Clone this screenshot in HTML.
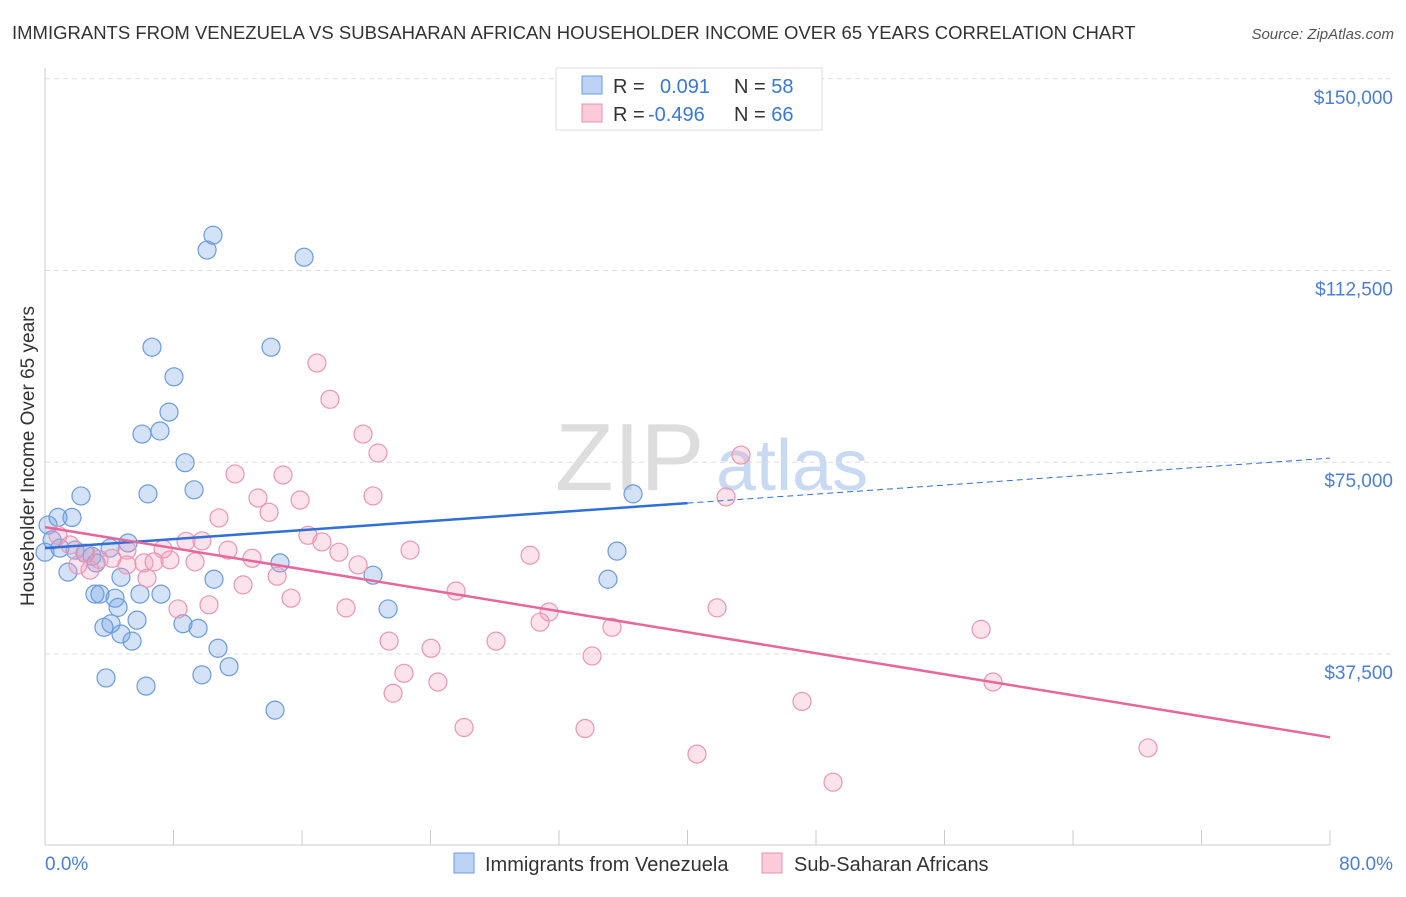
<!DOCTYPE html>
<html><head><meta charset="utf-8"><style>
body{margin:0;background:#fff;font-family:"Liberation Sans",sans-serif;}
svg text{font-family:"Liberation Sans",sans-serif;}
</style></head><body>
<svg id="chart" width="1406" height="892" xmlns="http://www.w3.org/2000/svg">
<text x="12" y="39" font-size="18.5" fill="#333">IMMIGRANTS FROM VENEZUELA VS SUBSAHARAN AFRICAN HOUSEHOLDER INCOME OVER 65 YEARS CORRELATION CHART</text>
<text x="1394" y="39" font-size="15" fill="#555" text-anchor="end" font-style="italic">Source: ZipAtlas.com</text>
<text x="555" y="490" font-size="96" fill="#ddd" font-family="Liberation Serif">ZIP</text>
<text x="716" y="490" font-size="72" fill="#c8daf2">atlas</text>
<g id="grid"></g>
<line x1="45" y1="68" x2="45" y2="845" stroke="#ccc"/>
<line x1="45" y1="845" x2="1330" y2="845" stroke="#ccc"/>
<text transform="translate(34,456) rotate(-90)" font-size="19" fill="#333" text-anchor="middle">Householder Income Over 65 years</text>
<text x="45" y="870" font-size="19" fill="#4a7fd4">0.0%</text>
<text x="1393" y="870" font-size="19" fill="#4a7fd4" text-anchor="end">80.0%</text>
<g id="pts"></g>
<g id="lines"></g>
<g>
<rect x="556" y="68" width="266" height="62" fill="#fff" stroke="#ddd"/>
<rect x="582" y="76" width="20" height="18" fill="#bcd3f5" stroke="#6a9be0"/>
<rect x="582" y="104" width="20" height="18" fill="#fbcbd9" stroke="#e890b0"/>
<text x="613" y="93" font-size="20" fill="#333">R = <tspan fill="#3a78d8" x="660">0.091</tspan><tspan x="734" fill="#333">N = </tspan><tspan fill="#3a78d8">58</tspan></text>
<text x="613" y="121" font-size="20" fill="#333">R = <tspan fill="#3a78d8" x="648">-0.496</tspan><tspan x="734" fill="#333">N = </tspan><tspan fill="#3a78d8">66</tspan></text>
</g>
<g>
<rect x="454" y="853" width="20" height="20" fill="#bcd3f5" stroke="#6a9be0"/>
<text x="485" y="871" font-size="20" fill="#333">Immigrants from Venezuela</text>
<rect x="762" y="853" width="20" height="20" fill="#fbcbd9" stroke="#e890b0"/>
<text x="794" y="871" font-size="20" fill="#333">Sub-Saharan Africans</text>
</g>
</svg>
<script>
const yTicks=[37500,75000,112500,150000];
const yTickLabels=["$37,500","$75,000","$112,500","$150,000"];
const blueX=[10.46,10.09,16.13,6.66,14.07,8.03,7.72,6.04,7.16,8.72,2.24,6.41,9.28,36.61,1.68,0.81,0.19,0.44,0,0.93,1.87,2.49,2.93,4.05,5.17,3.18,1.43,4.73,10.52,14.63,20.42,35.61,35.05,3.11,3.42,4.36,4.55,5.91,7.22,5.73,4.11,3.67,4.73,5.42,8.59,9.53,10.77,11.46,9.77,3.8,6.29,14.32,21.36];
const blueY=[119.4,116.5,115.1,97.5,97.5,91.7,84.8,80.5,81.1,74.9,68.4,68.8,69.6,68.8,64.2,64.2,62.7,59.8,57.4,58.2,57.8,57.2,56.6,58.2,59.2,55.3,53.5,52.5,52.1,55.3,52.9,57.6,52.1,49.2,49.2,48.4,46.6,49.2,49.2,44.1,43.4,42.7,41.4,40.0,43.4,42.5,38.6,35.0,33.4,32.8,31.2,26.5,46.3];
const pinkX=[16.93,17.74,19.8,20.73,43.33,11.83,14.82,20.42,42.4,13.26,15.88,13.95,10.83,16.37,17.24,8.78,9.77,0.81,1.56,7.35,11.39,18.3,22.73,30.2,5.1,2.55,3.36,4.17,6.16,6.79,7.78,9.34,12.89,5.1,2.8,2.05,19.49,14.45,6.35,12.33,25.59,15.32,8.28,10.21,18.74,31.38,41.84,30.82,35.3,58.28,28.08,21.42,24.03,34.06,22.35,24.46,59.02,21.67,47.13,26.09,33.62,40.59,68.67,49.06];
const pinkY=[94.4,87.3,80.5,76.8,76.4,72.7,72.5,68.4,68.2,68.0,67.6,65.2,64.1,60.7,59.4,59.5,59.6,60.7,58.8,58.0,57.8,57.4,57.8,56.8,57.8,57.2,56.0,56.2,55.3,55.5,55.9,55.5,56.2,54.9,53.9,54.9,54.9,52.7,52.3,51.0,49.8,48.4,46.3,47.1,46.5,45.7,46.5,43.7,42.7,42.3,40.0,40.0,38.6,37.1,33.7,32.0,32.0,29.8,28.2,23.1,22.9,17.9,19.1,12.4];
const blueFit=[58.2,0.22];   // intercept (k$), slope per %
const pinkFit=[62.3,-0.514];
const xTicks=[0,8,16,24,32,40,48,56,64,72,80];
const NS="http://www.w3.org/2000/svg";
const sx=v=>45+v*(1285/80);
const sy=v=>845.6-v*1000*(191.7/37500);
function mk(tag,attrs,parent){const e=document.createElementNS(NS,tag);for(const k in attrs)e.setAttribute(k,attrs[k]);parent.appendChild(e);return e;}
const grid=document.getElementById('grid');
yTicks.forEach((t,i)=>{
 const l=mk('line',{x1:45,x2:1393,y1:sy(t/1000),y2:sy(t/1000),stroke:'#ddd','stroke-dasharray':'5,4'},grid);
 
 
 const tx=mk('text',{x:1393,y:sy(t/1000)+25,'font-size':19,fill:'#4a7fd4','text-anchor':'end'},grid);
 tx.textContent=yTickLabels[i];
 
 
});
xTicks.forEach(t=>{
 const l=mk('line',{x1:sx(t),x2:sx(t),y1:830,y2:845,stroke:'#ccc'},grid);
 
 
});
const pts=document.getElementById('pts');
blueX.forEach((x,i)=>{
 const c=mk('circle',{cx:sx(x),cy:sy(blueY[i]),r:9,fill:'rgba(110,160,230,0.3)',stroke:'#6a9be0','stroke-width':1.2},pts);
 
 
});
pinkX.forEach((x,i)=>{
 const c=mk('circle',{cx:sx(x),cy:sy(pinkY[i]),r:9,fill:'rgba(245,160,190,0.3)',stroke:'#eb95b5','stroke-width':1.2},pts);
 
 
});
const lines=document.getElementById('lines');
const f=(fit,x)=>fit[0]+fit[1]*x;
let l1=mk('line',{x1:sx(0),y1:sy(f(blueFit,0)),x2:sx(40),y2:sy(f(blueFit,40)),stroke:'#2f6fd6','stroke-width':2.5},lines);


let l2=mk('line',{x1:sx(40),y1:sy(f(blueFit,40)),x2:sx(80),y2:sy(f(blueFit,80)),stroke:'#2f6fd6','stroke-width':1,'stroke-dasharray':'6,4'},lines);


let l3=mk('line',{x1:sx(0),y1:sy(f(pinkFit,0)),x2:sx(80),y2:sy(f(pinkFit,80)),stroke:'#e8679a','stroke-width':2.5},lines);


</script>
</body></html>
